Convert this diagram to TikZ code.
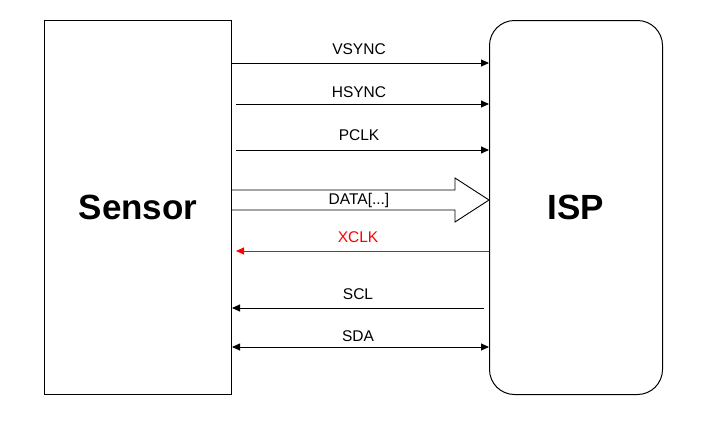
\documentclass[tikz,border=0pt]{standalone}
\usepackage{fontspec}
\setmainfont{Liberation Sans}
\usetikzlibrary{arrows.meta, positioning, calc, shapes.arrows}

\begin{document}
\begin{tikzpicture}
   [
      x=1pt, y=-1pt,
      block/.style={draw, line width=1pt, minimum width=187pt, minimum height=374pt, font=\fontsize{35}{40}\selectfont\bfseries},
      sig/.style={line width=0.9pt, -{Triangle[length=8pt, width=7pt]}},
      sig label/.style={font=\fontsize{15.5}{18}\selectfont, inner sep=0pt},
   ]
   \useasboundingbox (0,0) rectangle (712,432);

   % Blocks
   \node[block, anchor=north west] (sensor) at (44,20) {Sensor};
   \node[block, anchor=north west, minimum width=173pt, rounded corners=25pt] (isp) at (489,20) {ISP};

   % Signals from sensor to isp
   \draw[sig] (sensor.east |- 0,63) -- (isp.west |- 0,63);
   \node[sig label] (vsync) at (359,49) {VSYNC};
   \draw[sig] ([xshift=4pt]sensor.east |- 0,104) -- (isp.west |- 0,104);
   \node[sig label] (hsync) at (359,92) {HSYNC};
   \draw[sig] ([xshift=4pt]sensor.east |- 0,150) -- (isp.west |- 0,150);
   \node[sig label] (pclk) at (359,135) {PCLK};

   % Data bus
   \draw[line width=0.9pt] (sensor.east |- 0,190) -- (455,190) -- (455,178)
      -- (isp.west |- 0,200) -- (455,222) -- (455,210) -- (sensor.east |- 0,210);
   \node[sig label] (data) at (359,200) {DATA[...]};

   % Signals from isp to sensor
   \draw[sig, red] (isp.west |- 0,251) -- ([xshift=4pt]sensor.east |- 0,251);
   \node[sig label, text=red] (xclk) at (358,237) {XCLK};
   \draw[sig] ([xshift=-5pt]isp.west |- 0,308) -- (sensor.east |- 0,308);
   \node[sig label] (scl) at (358,294) {SCL};
   \draw[sig, {Triangle[length=8pt, width=7pt]}-{Triangle[length=8pt, width=7pt]}] (sensor.east |- 0,347) -- (isp.west |- 0,347);
   \node[sig label] (sda) at (358,336) {SDA};
\end{tikzpicture}
\end{document}
